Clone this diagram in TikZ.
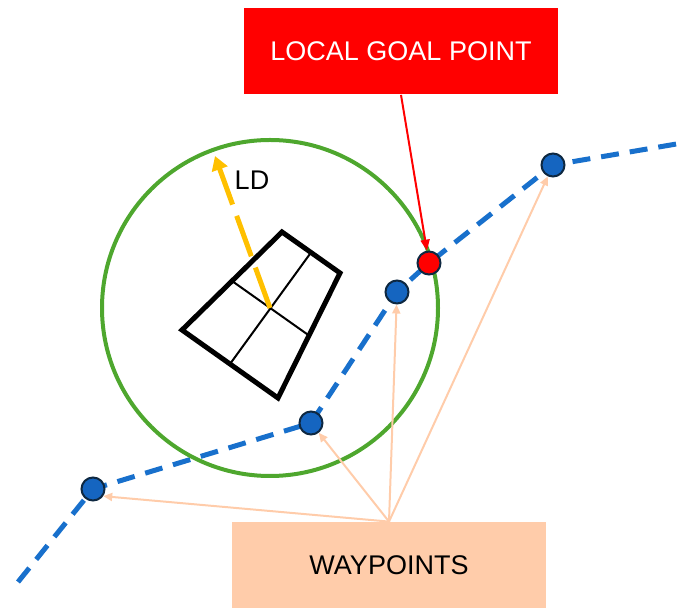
\documentclass[tikz,border=0pt]{standalone}
\usepackage{fontspec}
\setmainfont{Liberation Sans}
\usetikzlibrary{arrows.meta,calc}

\definecolor{pathblue}{RGB}{24,112,204}
\definecolor{dotblue}{RGB}{21,101,192}
\definecolor{navy}{RGB}{14,40,65}
\definecolor{ringgreen}{RGB}{78,167,46}
\definecolor{ldyellow}{RGB}{255,192,0}
\definecolor{peach}{RGB}{255,204,170}

\begin{document}
\begin{tikzpicture}[x=0.5pt,y=-0.5pt,>={Triangle[length=4.5pt,width=4pt]},
  every node/.style={font=\fontsize{13.5}{16}\selectfont},
  wp/.style={circle,fill=dotblue,draw=navy,line width=1pt,minimum size=11.5pt,inner sep=0pt},
  labelbox/.style={minimum width=157pt,minimum height=43pt,inner sep=0pt}]
  \useasboundingbox (0,0) rectangle (686,608);

  % Path
  \coordinate (p0) at (18,582);
  \coordinate (pA) at (93,489);
  \coordinate (pB) at (311,423);
  \coordinate (pC) at (397,292);
  \coordinate (pG) at (429,263);
  \coordinate (pD) at (553,165);
  \coordinate (p1) at (700,140);
  \draw[pathblue,line width=2.5pt,dash pattern=on 9pt off 5.5pt] (p0) -- (pA) -- (pB) -- (pC) -- (pG) -- (pD) -- (p1);

  % Look-ahead circle
  \draw[ringgreen,line width=2pt] (270,308) circle[radius=84pt];

  % Vehicle
  \coordinate (f1) at (282,232);
  \coordinate (f2) at (340,273);
  \coordinate (r2) at (278,398);
  \coordinate (r1) at (182,330);
  \draw[line width=2.5pt] (f1) -- (f2) -- (r2) -- (r1) -- cycle;
  \draw[line width=1pt] ($(f1)!0.5!(r1)$) -- ($(f2)!0.5!(r2)$)
    ($(f1)!0.5!(f2)$) -- ($(r1)!0.5!(r2)$);

  % LD
  \coordinate (mid) at (270,308);
  \coordinate (ldtip) at (215,156);
  \draw[-{Triangle[length=7pt,width=8pt]},ldyellow,line width=2.5pt,dash pattern=on 21.5pt off 6pt] (mid) -- (ldtip);
  \node (ld) at (252,180) {LD};

  % Points
  \foreach \p in {A,B,C,D}
    \node[wp] (wp\p) at (p\p) {};
  \node[wp,fill=red] (goal) at (pG) {};

  % Boxes
  \node[labelbox,fill=red,text=white] (goalbox) at (401,51.5) {LOCAL GOAL POINT};
  \node[labelbox,fill=peach] (wpbox) at (389,565) {WAYPOINTS};

  % Arrows
  \draw[-{Triangle[length=5.5pt,width=4.5pt]},red,line width=1pt] (goalbox.south) -- (goal);
  \foreach \p in {wpA.-35,wpB,wpC,wpD}
    \draw[->,peach,line width=1pt] (wpbox.north) -- (\p);
\end{tikzpicture}
\end{document}
